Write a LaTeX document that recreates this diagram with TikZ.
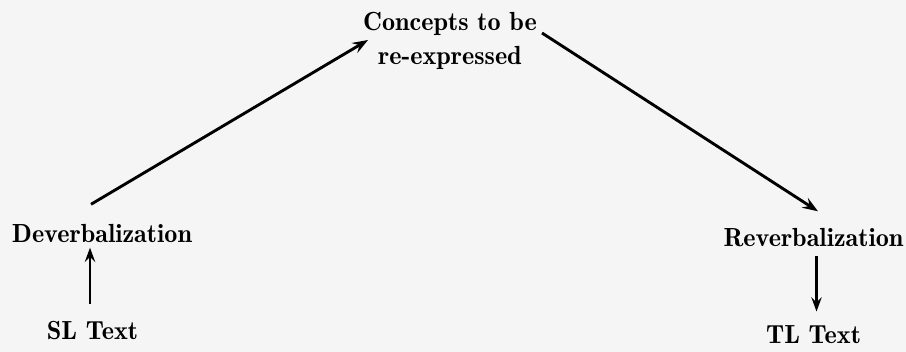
\documentclass[tikz,border=0pt]{standalone}
\usetikzlibrary{arrows.meta,calc}
\begin{document}
\begin{tikzpicture}[x=0.382pt,y=-0.382pt,
  lbl/.style={inner sep=0pt,anchor=base,font=\fontsize{10}{13}\fontseries{b}\selectfont},
  thickarr/.style={line width=1.1pt,-{Stealth[length=6pt,width=4.4pt,inset=2.2pt]}},
  thinarr/.style={line width=0.8pt,-{Stealth[length=5.5pt,width=4pt,inset=2pt]}}]
\fill[black!4] (0,0) rectangle (906,352);
\useasboundingbox (0,0) rectangle (906,352);
\node[lbl,align=center] (concepts) at (450,65) {Concepts to be\\re-expressed};
\node[lbl] (dev) at (102,243) {Deverbalization};
\node[lbl] (sl) at (92.5,340) {SL Text};
\node[lbl] (rev) at (813.5,247) {Reverbalization};
\node[lbl] (tl) at (813.5,344) {TL Text};
\draw[thinarr] ($(sl.north)+(-2.5,-17)$) -- ($(dev.south)+(-12,4)$);
\draw[thickarr] ($(dev.north)+(-11,-20)$) -- ($(concepts.base)+(-82,-25)$);
\draw[thickarr] ($(concepts.base)+(92,-32)$) -- ($(rev.north)+(4.5,-17)$);
\draw[thinarr] ($(rev.south)+(3,8)$) -- ($(tl.north)+(3,-14)$);
\end{tikzpicture}
\end{document}
